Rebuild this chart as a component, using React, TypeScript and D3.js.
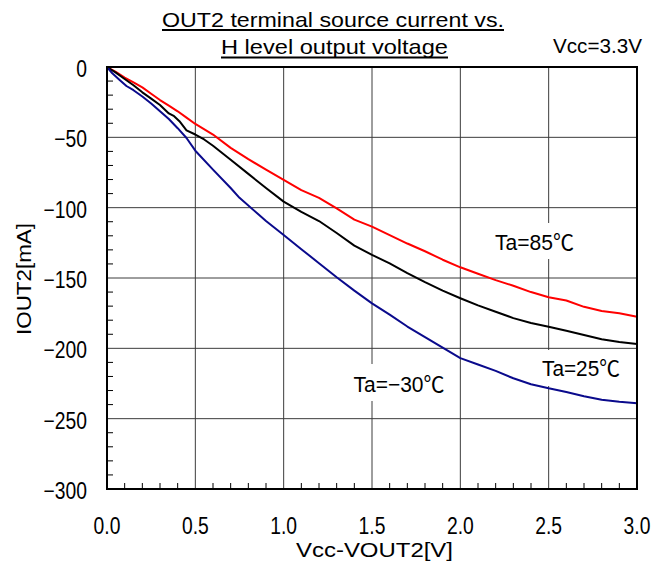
import React from "react";
import * as d3 from "d3";

// ---- data ----
const xTicks = [0, 0.5, 1.0, 1.5, 2.0, 2.5, 3.0];
const yTicks = [0, -50, -100, -150, -200, -250, -300];

const v85 = [0, 0.05, 0.1, 0.15, 0.2, 0.25, 0.3, 0.35, 0.4, 0.45, 0.5, 0.6, 0.7, 0.8, 0.9, 1.0, 1.1, 1.2, 1.3, 1.4, 1.5, 1.6, 1.7, 1.8, 1.9, 2.0, 2.1, 2.2, 2.3, 2.4, 2.5, 2.6, 2.7, 2.8, 2.9, 3.0];
const i85 = [0, -3.5, -7.5, -11, -14.5, -19, -23.5, -27.5, -31.5, -36, -40.5, -48, -57.5, -65.5, -73, -80.3, -87.5, -93, -100.5, -108.5, -113.5, -119.5, -125.5, -131, -137, -142.4, -147, -151.5, -155.5, -160, -163.7, -166, -170.5, -173.5, -175, -177.5];

const v25 = [0, 0.05, 0.1, 0.15, 0.2, 0.25, 0.3, 0.35, 0.38, 0.41, 0.45, 0.5, 0.55, 0.6, 0.7, 0.8, 0.9, 1.0, 1.1, 1.2, 1.3, 1.4, 1.5, 1.6, 1.7, 1.8, 1.9, 2.0, 2.1, 2.2, 2.3, 2.4, 2.5, 2.6, 2.7, 2.8, 2.9, 3.0];
const i25 = [0, -4, -8.5, -13, -18, -22.5, -27, -33, -35, -38.5, -45, -48, -51.5, -56, -66, -76, -86, -95.7, -103, -109.5, -118, -127, -133.6, -139.6, -146.5, -153, -159, -164.4, -169.5, -174, -178.5, -182, -184.6, -187.5, -190.5, -193.5, -195.5, -197];

const vm30 = [0, 0.03, 0.07, 0.11, 0.15, 0.2, 0.25, 0.3, 0.35, 0.4, 0.45, 0.5, 0.6, 0.7, 0.75, 0.85, 0.9, 1.0, 1.1, 1.2, 1.3, 1.4, 1.5, 1.6, 1.7, 1.8, 1.9, 2.0, 2.1, 2.2, 2.3, 2.4, 2.5, 2.6, 2.7, 2.8, 2.9, 3.0];
const im30 = [0, -4.5, -9, -13.5, -16.5, -21, -26, -31.5, -37, -43.5, -50.5, -59.5, -73, -86, -93, -104, -109.5, -119.4, -129.5, -139.5, -149.5, -159, -168, -176, -184.5, -192, -199.5, -207, -211.5, -216, -221.3, -225.5, -228.4, -231, -234, -236.5, -238, -239];

const seriesNames = ["Ta=85℃", "Ta=25℃", "Ta=−30℃"];
const seriesColors = ["#ff0000", "#000000", "#0a0a8c"];

const titleLines = ["OUT2 terminal source current vs.", "H level output voltage"];
const vccLabel = "Vcc=3.3V";
const xTitle = "Vcc-VOUT2[V]";
const yTitle = "IOUT2[mA]";

// ---- layout ----
const W = 669, H = 564;
const L = 107, R = 637, T = 67, B = 489;
const FONT = "'Liberation Sans', 'Noto Sans CJK JP', sans-serif";
const SX = 0.84;

function NText({ x, y, anchor, size, children }: { x: number; y: number; anchor: string; size: number; children: any }) {
  return (
    <text transform={`translate(${x},${y}) scale(${SX},1)`} textAnchor={anchor} fontSize={size}>{children}</text>
  );
}

export default function App() {
  const x = d3.scaleLinear().domain([0, 3]).range([L, R]);
  const y = d3.scaleLinear().domain([-300, 0]).range([B, T]);
  const line = d3.line<[number, number]>().x(d => x(d[0])).y(d => y(d[1]));

  const series = [
    { v: v85, i: i85 },
    { v: v25, i: i25 },
    { v: vm30, i: im30 },
  ];

  const yMinor = d3.range(-300, 1, 10).filter(v => v % 50 !== 0);
  const xMinor = d3.range(0, 31, 1).filter(k => k % 5 !== 0).map(k => k / 10);

  const gridColor = "#3c3c3c";

  return (
    <svg width={W} height={H} style={{ position: "absolute", left: 0, top: 0, background: "#fff" }} fontFamily={FONT}>
      <rect x={0} y={0} width={W} height={H} fill="#fff" />
      {/* grid */}
      {xTicks.slice(1, -1).map(v => (
        <line key={"gx" + v} x1={x(v)} x2={x(v)} y1={T} y2={B} stroke={gridColor} strokeWidth={1} />
      ))}
      {yTicks.slice(1, -1).map(v => (
        <line key={"gy" + v} x1={L} x2={R} y1={y(v)} y2={y(v)} stroke={gridColor} strokeWidth={1} />
      ))}
      {/* label boxes */}
      <rect x={488} y={223} width={92} height={36} fill="#fff" />
      <rect x={537} y={350} width={88} height={36} fill="#fff" />
      <rect x={348} y={364} width={102} height={37} fill="#fff" />
      {/* minor ticks */}
      {yMinor.map(v => (
        <line key={"my" + v} x1={L} x2={L + 6} y1={y(v)} y2={y(v)} stroke="#000" strokeWidth={1} />
      ))}
      {xMinor.map(v => (
        <line key={"mx" + v} x1={x(v)} x2={x(v)} y1={B} y2={B - 6} stroke="#000" strokeWidth={1} />
      ))}
      {/* curves */}
      {series.map((s, k) => (
        <path key={"s" + k} d={line(s.v.map((v, j) => [v, s.i[j]] as [number, number])) || ""} fill="none"
          stroke={seriesColors[k]} strokeWidth={2} strokeLinejoin="round" />
      ))}
      {/* frame */}
      <rect x={L} y={T} width={R - L} height={B - T} fill="none" stroke="#000" strokeWidth={2} />
      {/* tick labels */}
      {yTicks.map(v => (
        <NText key={"ty" + v} x={L - 20} y={y(v) + 10} anchor="end" size={23}>{v === 0 ? "0" : "−" + Math.abs(v)}</NText>
      ))}
      {xTicks.map(v => (
        <NText key={"tx" + v} x={x(v)} y={534} anchor="middle" size={23}>{v.toFixed(1)}</NText>
      ))}
      {/* axis titles */}
      <text x={374.5} y={557} textAnchor="middle" fontSize={20} textLength={157} lengthAdjust="spacingAndGlyphs">{xTitle}</text>
      <text transform={`translate(31,279) rotate(-90)`} textAnchor="middle" fontSize={20} textLength={112} lengthAdjust="spacingAndGlyphs">{yTitle}</text>
      {/* title */}
      <text x={333} y={27} textAnchor="middle" fontSize={21} textLength={342} lengthAdjust="spacingAndGlyphs">{titleLines[0]}</text>
      <line x1={333 - 171} x2={333 + 171} y1={30} y2={30} stroke="#000" strokeWidth={2.2} />
      <text x={334.5} y={54} textAnchor="middle" fontSize={21} textLength={227} lengthAdjust="spacingAndGlyphs">{titleLines[1]}</text>
      <line x1={334.5 - 113.5} x2={334.5 + 113.5} y1={57.5} y2={57.5} stroke="#000" strokeWidth={2.2} />
      <text x={597.5} y={52.5} textAnchor="middle" fontSize={21} textLength={89} lengthAdjust="spacingAndGlyphs">{vccLabel}</text>
      {/* series labels */}
      <text x={534.5} y={250} textAnchor="middle" fontSize={22} textLength={79} lengthAdjust="spacingAndGlyphs">{seriesNames[0]}</text>
      <text x={581} y={375.5} textAnchor="middle" fontSize={22} textLength={78} lengthAdjust="spacingAndGlyphs">{seriesNames[1]}</text>
      <text x={399} y={391.5} textAnchor="middle" fontSize={22} textLength={91} lengthAdjust="spacingAndGlyphs">{seriesNames[2]}</text>
    </svg>
  );
}
